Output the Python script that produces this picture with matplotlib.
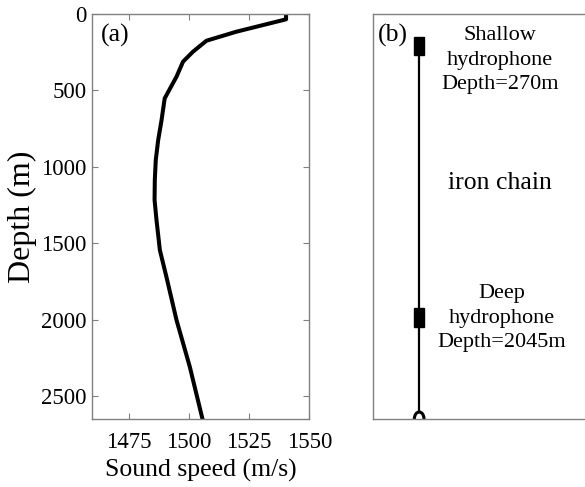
import numpy as np
import matplotlib
matplotlib.use("Agg")
import matplotlib.pyplot as plt
from matplotlib.patches import Rectangle, Arc

# sound speed profile
depth = [0, 35, 116, 175, 247, 312, 410, 552, 694, 825, 955, 1086, 1217,
         1348, 1545, 1719, 2003, 2308, 2646]
speed = [1540.3, 1540.3, 1519.7, 1507.3, 1501.7, 1497.6, 1494.9, 1490.0, 1488.7,
         1487.3, 1486.3, 1485.9, 1485.8, 1486.6, 1488.0, 1490.7, 1494.9, 1500.4, 1505.6]

x_ticks = [1475, 1500, 1525, 1550]
y_ticks = [0, 500, 1000, 1500, 2000, 2500]

# mooring in panel (b)
phone_depths = [270, 2045]
phone_labels = ["Shallow\nhydrophone\nDepth=270m", "Deep\nhydrophone\nDepth=2045m"]
max_depth = 2650

plt.rcParams['font.family'] = ['Liberation Serif', 'DejaVu Serif']
spine_col = "#808080"

fig = plt.figure(figsize=(5.85, 4.87), dpi=100)
ax1 = fig.add_axes([0.1578, 0.1396, 0.3712, 0.8317])
ax2 = fig.add_axes([0.638, 0.1396, 0.367, 0.8317])

ax1.plot(speed, depth, color="black", lw=2.9)
ax1.set_xlim(1460, 1550)
ax1.set_ylim(max_depth, 0)
ax1.set_xticks(x_ticks)
ax1.set_yticks(y_ticks)
ax1.tick_params(direction="in", length=4, width=0.8, color=spine_col,
                top=True, right=True, labelsize=16.5)
ax1.tick_params(axis="x", pad=9)
ax1.tick_params(axis="y", pad=4)
ax1.set_xlabel("Sound speed (m/s)", fontsize=18.5, va="center")
ax1.set_ylabel("Depth (m)", fontsize=23, va="center")
ax1.xaxis.set_label_coords(0.5, -0.126)
ax1.yaxis.set_label_coords(-0.32, 0.5)
ax1.text(0.04, 0.975, "(a)", transform=ax1.transAxes, fontsize=18.5, va="top", ha="left")

# panel (b)
chain_x = 0.214
ax2.set_xlim(0, 1)
ax2.set_ylim(max_depth, 0)
ax2.plot([chain_x, chain_x], [170, max_depth - 46], color="black", lw=1.6)
for d in phone_depths:
    ax2.add_patch(Rectangle((chain_x - 0.024, d - 120), 0.048, 120,
                            facecolor="black", edgecolor="black"))
# anchor at the sea floor (y axis is inverted, so the dome is 180..360)
ax2.add_patch(Arc((chain_x, max_depth), 0.045, 92, theta1=180, theta2=360,
                  color="black", lw=2.2))
ax2.text(0.59, 0.886, phone_labels[0], transform=ax2.transAxes, fontsize=16,
         ha="center", va="center", linespacing=1.38)
ax2.text(0.59, 0.583, "iron chain", transform=ax2.transAxes, fontsize=18.5,
         ha="center", va="center")
ax2.text(0.60, 0.249, phone_labels[1], transform=ax2.transAxes, fontsize=16,
         ha="center", va="center", linespacing=1.38)
ax2.set_xticks([])
ax2.set_yticks([])
ax2.text(0.02, 0.975, "(b)", transform=ax2.transAxes, fontsize=18.5, va="top", ha="left")

for ax in (ax1, ax2):
    for s in ax.spines.values():
        s.set_color(spine_col)
        s.set_linewidth(1.0)

fig.savefig("out.png", dpi=100)
